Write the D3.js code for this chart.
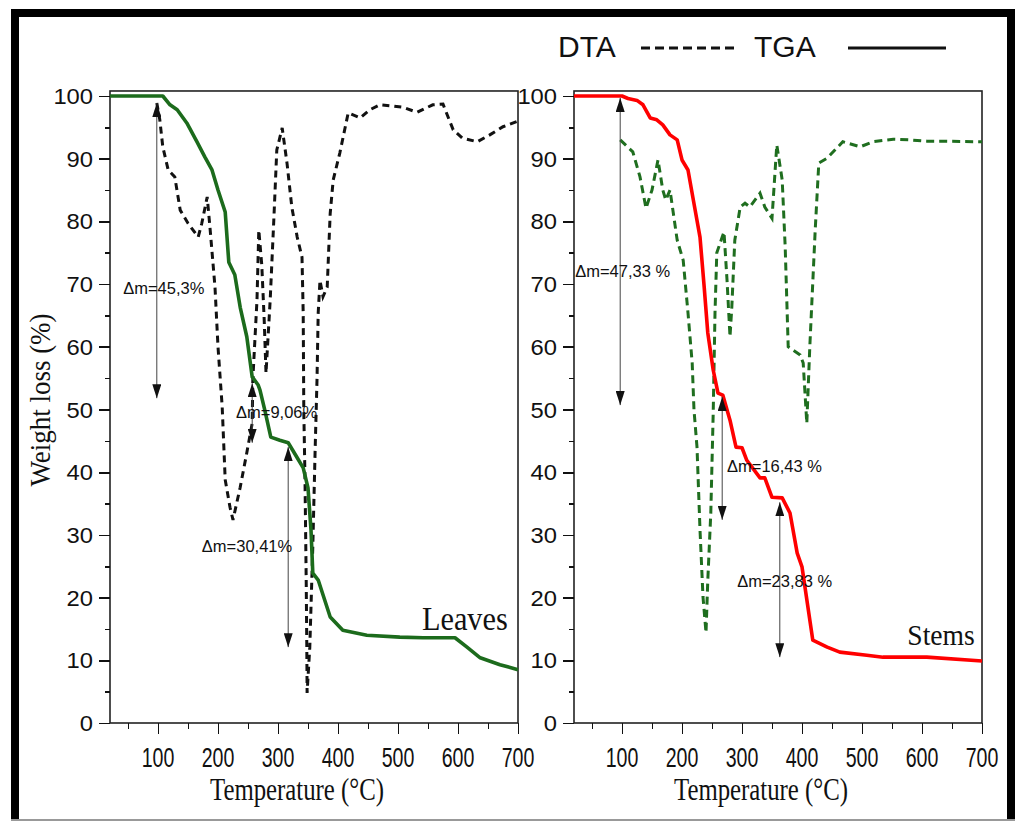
<!DOCTYPE html>
<meta charset="utf-8">
<title>TGA / DTA - Leaves and Stems</title>
<style>
body {
  margin: 0;
  background: #fff;
}
svg text {
  font-family: 'Liberation Sans', Arial, sans-serif;
  fill: #111;
}
svg text.serif {
  font-family: 'Liberation Serif', 'Times New Roman', serif;
}
.axis path,
.axis line {
  stroke: #111;
  stroke-width: 1.6;
  shape-rendering: crispEdges;
}
</style>
<body>
<svg width="1016" height="821"></svg>
<script src="https://d3js.org/d3.v7.min.js"></script>
<script>
// ---- data: [temperature (°C), weight (%)] ----
var leavesTGA = [[20,100],[108,100],[120,98.6],[132,97.8],[148,95.7],[165,92.7],[178,90.3],[190,88.2],
  [200,85],[212,81.5],[218,73.5],[228,71.5],[237,66.3],[248,61.6],[257,55.2],[267,53.9],[270,53.1],
  [278,49.9],[288,45.6],[303,45.1],[317,44.7],[332,42.3],[342,40.7],[350,37.5],[355,30.8],[358,23.9],
  [367,22.8],[387,16.9],[408,14.8],[448,14],[503,13.7],[542,13.6],[595,13.6],[615,12.1],[637,10.4],
  [670,9.3],[700,8.5]];

var leavesDTA = [[98,98.9],[103,96.2],[108,91.9],[117,88.2],[128,87.1],[137,81.8],[150,79.7],[167,77.5],
  [173,79.7],[182,83.9],[187,78.6],[195,69.5],[200,60],[207,50.4],[212,38.8],[220,34.4],[225,32.4],
  [237,37.6],[248,43.1],[257,47.8],[258,54.7],[265,67.5],[268,78.6],[273,73],[277,64.3],[280,55.8],
  [287,67.5],[293,80.2],[298,91.4],[307,94.9],[315,89.3],[323,82.3],[332,77.5],[340,74.3],[342,65.4],
  [343,49.9],[345,38.8],[347,22.8],[348,12.1],[348.5,4.8],[353,12.1],[358,28.1],[362,44],[365,54.7],
  [367,65.4],[370,70.6],[375,68],[382,69.5],[387,81.3],[392,86.6],[403,90.9],[417,97.3],[437,96.5],
  [453,97.8],[470,98.6],[492,98.4],[508,98.2],[532,97.4],[558,98.6],[575,98.7],[592,94.6],[607,93.3],
  [632,92.7],[653,93.8],[675,95.1],[700,96]];

var stemsTGA = [[20,100],[100,100],[110,99.6],[125,99.3],[135,98.6],[147,96.5],[158,96.2],[168,95.4],
  [180,93.8],[192,93],[200,89.8],[210,88.2],[218,83.9],[230,77.5],[237,69.5],[243,62.2],[252,56.3],
  [260,52.6],[268,52.3],[280,48.3],[290,44],[300,43.9],[308,41.9],[330,39.1],[338,39.1],[350,36],
  [367,35.9],[380,33.5],[392,27.1],[400,24.9],[418,13.2],[442,12.1],[463,11.3],[508,10.8],[535,10.5],
  [608,10.5],[700,9.9]];

var stemsDTA = [[97,93],[118,91.1],[130,87.1],[140,82.1],[150,85],[160,89.8],[168,85],[173,83.4],
  [180,85],[192,77],[202,73.8],[210,65.4],[217,57.4],[220,49.9],[225,44],[230,30.8],[235,20.1],
  [240,14.4],[243,22.8],[248,33.5],[252,49.4],[255,65.4],[258,75],[267,77.5],[270,78.3],[275,70.7],
  [280,61.6],[283,66.3],[288,77],[297,82.3],[305,82.9],[313,82.3],[330,84.5],[338,82.3],[350,80.5],
  [358,92.2],[367,86.6],[372,75.9],[377,60],[397,58.7],[402,57.4],[408,47.8],[413,60],[422,78.6],
  [428,89.3],[442,90.1],[458,91.7],[468,92.7],[497,91.9],[518,92.7],[552,93.1],[580,93],[608,92.8],
  [635,92.8],[700,92.7]];

// mass-loss arrows: temperature, from %, to %, label, label temperature, label %
var leavesSteps = [
  [98, 98.9, 51.8, "Δm=45,3%", 42, 69.3],
  [257, 54.2, 44.7, "Δm=9,06%", 230, 49.6],
  [317, 44, 12.1, "Δm=30,41%", 173, 28.3]
];
var stemsSteps = [
  [97, 99.7, 50.7, "Δm=47,33 %", 22, 72.1],
  [267, 52, 32.4, "Δm=16,43 %", 275, 41],
  [363, 35.2, 10.5, "Δm=23,83 %", 292, 22.7]
];

var xMajor = [100, 200, 300, 400, 500, 600, 700];
var xMinor = [50, 150, 250, 350, 450, 550, 650];
var yMajor = [0, 10, 20, 30, 40, 50, 60, 70, 80, 90, 100];
var yMinor = [5, 15, 25, 35, 45, 55, 65, 75, 85, 95];

var svg = d3.select("svg");

// outer frame
svg.append("rect").attr("x", 0).attr("y", 0).attr("width", 1016).attr("height", 821).attr("fill", "#fff");
svg.append("rect").attr("x", 11).attr("y", 9).attr("width", 1004).attr("height", 8).attr("fill", "#000");
svg.append("rect").attr("x", 11).attr("y", 9).attr("width", 8).attr("height", 812).attr("fill", "#000");
svg.append("rect").attr("x", 1007).attr("y", 9).attr("width", 8).attr("height", 812).attr("fill", "#000");
svg.append("rect").attr("x", 11).attr("y", 819).attr("width", 1004).attr("height", 2).attr("fill", "#999");

// arrow heads
var defs = svg.append("defs");
defs.append("marker")
    .attr("id", "head")
    .attr("markerUnits", "userSpaceOnUse")
    .attr("viewBox", "0 0 14 9")
    .attr("markerWidth", 14)
    .attr("markerHeight", 9)
    .attr("refX", 14)
    .attr("refY", 4.5)
    .attr("orient", "auto-start-reverse")
  .append("path")
    .attr("d", "M0,0 L14,4.5 L0,9 Z")
    .attr("fill", "#111");

// text that is squeezed / stretched like the scanned figure
function label(g, x, y, txt, size, sx, anchor, cls, rot) {
  var t = g.append("text")
    .attr("transform", "translate(" + x + "," + y + ")" + (rot ? " rotate(" + rot + ")" : "") + " scale(" + sx + ",1)")
    .attr("font-size", size)
    .attr("text-anchor", anchor || "start")
    .text(txt);
  if (cls) t.attr("class", cls);
  return t;
}

var y = d3.scaleLinear().domain([0, 100]).range([723, 96]);

function panel(left, tga, tgaColor, dta, dtaColor, dash, steps, name, nameT, nameV, nameSize) {
  var x = d3.scaleLinear().domain([20, 700]).range([left, left + 408]);
  var g = svg.append("g");
  var top = y(100.8);

  // frame of the plot
  g.append("rect")
    .attr("x", x(20)).attr("y", top)
    .attr("width", x(700) - x(20)).attr("height", y(0) - top)
    .attr("fill", "none").attr("stroke", "#222").attr("stroke-width", 1.6);

  // axes
  g.append("g").attr("class", "axis").attr("transform", "translate(0," + y(0) + ")")
    .call(d3.axisBottom(x).tickValues(xMajor).tickSize(11).tickFormat(""));
  g.append("g").attr("class", "axis").attr("transform", "translate(0," + y(0) + ")")
    .call(d3.axisBottom(x).tickValues(xMinor).tickSize(6).tickFormat(""));
  g.append("g").attr("class", "axis").attr("transform", "translate(" + x(20) + ",0)")
    .call(d3.axisLeft(y).tickValues(yMajor).tickSize(11).tickFormat(""));
  g.append("g").attr("class", "axis").attr("transform", "translate(" + x(20) + ",0)")
    .call(d3.axisLeft(y).tickValues(yMinor).tickSize(5).tickFormat(""));
  g.selectAll(".axis path").remove();

  xMajor.forEach(function(v) {
    label(g, x(v), y(0) + 44, v, 28, 0.7, "middle");
  });
  yMajor.forEach(function(v) {
    label(g, x(20) - 17, y(v) + 8, v, 22, 1.08, "end");
  });
  label(g, (x(20) + x(700)) / 2 - 17, 800, "Temperature (°C)", 31, 0.8, "middle", "serif");

  var line = d3.line().x(function(d) { return x(d[0]); }).y(function(d) { return y(d[1]); });

  g.append("path").datum(dta)
    .attr("d", line)
    .attr("fill", "none")
    .attr("stroke", dtaColor)
    .attr("stroke-width", 3)
    .attr("stroke-dasharray", dash);

  g.append("path").datum(tga)
    .attr("d", line)
    .attr("fill", "none")
    .attr("stroke", tgaColor)
    .attr("stroke-width", 3.6)
    .attr("stroke-linejoin", "round");

  steps.forEach(function(s) {
    g.append("line")
      .attr("x1", x(s[0])).attr("x2", x(s[0]))
      .attr("y1", y(s[1])).attr("y2", y(s[2]))
      .attr("stroke", "#444").attr("stroke-width", 1)
      .attr("marker-start", "url(#head)")
      .attr("marker-end", "url(#head)");
    label(g, x(s[4]), y(s[5]) + 6, s[3], 16.5, 1, "start").attr("fill", "#333");
  });

  label(g, x(nameT), y(nameV), name, nameSize, 0.92, "end", "serif");
  return g;
}

panel(110, leavesTGA, "#1c6b1c", leavesDTA, "#111", "7,5", leavesSteps, "Leaves", 683, 14.8, 33);
panel(574, stemsTGA, "#ff0000", stemsDTA, "#1f6e1f", "8,5", stemsSteps, "Stems", 688, 12.4, 30);

// y title
label(svg, 50, 400, "Weight loss (%)", 30, 0.9, "middle", "serif", -90);

// legend
label(svg, 558, 57, "DTA", 30, 1, "start");
svg.append("line").attr("x1", 641).attr("x2", 736).attr("y1", 48).attr("y2", 48)
  .attr("stroke", "#111").attr("stroke-width", 3).attr("stroke-dasharray", "9,5");
label(svg, 754, 57, "TGA", 30, 1, "start");
svg.append("line").attr("x1", 848).attr("x2", 946).attr("y1", 48).attr("y2", 48)
  .attr("stroke", "#111").attr("stroke-width", 3);
</script>
</body>
